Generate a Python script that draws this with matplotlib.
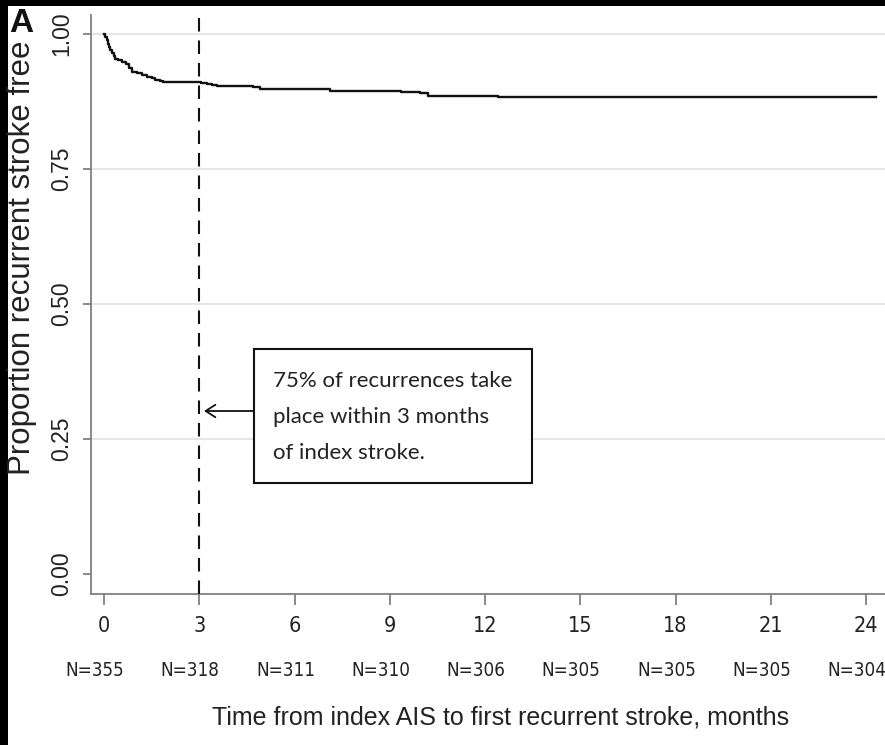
import matplotlib
matplotlib.use("Agg")
import matplotlib.pyplot as plt
from matplotlib.patches import Rectangle
from matplotlib import font_manager as fm

# ---------------- data ----------------
event_times = [0.04, 0.08, 0.12, 0.16, 0.20, 0.25, 0.30, 0.36, 0.45, 0.58, 0.70,
               0.80, 0.87, 1.05, 1.20, 1.35, 1.50, 1.62, 1.75, 1.87, 3.05, 3.23,
               3.40, 3.55, 4.70, 4.91, 7.12, 9.37, 9.95, 10.20, 12.42]
surv_after = [0.994, 0.988, 0.982, 0.976, 0.970, 0.965, 0.960, 0.954, 0.951, 0.948, 0.945,
              0.937, 0.930, 0.928, 0.925, 0.921, 0.918, 0.915, 0.913, 0.912, 0.910, 0.908,
              0.906, 0.904, 0.901, 0.898, 0.894, 0.893, 0.890, 0.885, 0.883]
follow_up_end = 24.3

x_ticks = [0, 3, 6, 9, 12, 15, 18, 21, 24]
y_ticks = [0.00, 0.25, 0.50, 0.75, 1.00]
y_tick_labels = ["0.00", "0.25", "0.50", "0.75", "1.00"]
n_at_risk = ["N=355", "N=318", "N=311", "N=310", "N=306", "N=305", "N=305", "N=305", "N=304"]
marker_month = 3
annotation_text = "75% of recurrences take\nplace within 3 months\nof index stroke."
x_label = "Time from index AIS to first recurrent stroke, months"
y_label = "Proportion recurrent stroke free"
panel_label = "A"

# ---------------- fonts ----------------
regular = ["Liberation Sans", "DejaVu Sans"]
try:
    f = fm.findfont(fm.FontProperties(family="DejaVu Sans", stretch="condensed"),
                    fallback_to_default=False)
    have_cond = "ondensed" in f
except Exception:
    have_cond = False
if have_cond:
    tick_font = dict(fontfamily=["DejaVu Sans"], fontstretch="condensed")
    xt_size, n_size = 15.5, 13.5
else:
    tick_font = dict(fontfamily=["Roboto", "Liberation Sans"])
    xt_size, n_size = 14, 12.5

# ---------------- figure ----------------
W, H = 885, 745
fig = plt.figure(figsize=(W / 100, H / 100), dpi=100)
fig.patch.set_facecolor("black")
fig.add_artist(Rectangle((8 / W, 0), 1, 1 - 6 / H, transform=fig.transFigure,
                         facecolor="white", edgecolor="none", zorder=-5))

ax_left, ax_right, ax_top, ax_bottom = 91, 885, 15, 594
ax = fig.add_axes([ax_left / W, 1 - ax_bottom / H, (ax_right - ax_left) / W,
                   (ax_bottom - ax_top) / H])
ax.set_facecolor("white")

x0 = (ax_left - 104) / 31.75
x1 = (ax_right - 104) / 31.75
y0 = (574 - ax_bottom) / 540
y1 = (574 - ax_top) / 540
ax.set_xlim(x0, x1)
ax.set_ylim(y0, y1)

for yv in y_ticks[1:]:
    ax.axhline(yv, color="#e6e6e6", lw=1.5, zorder=1)

xs = [0] + event_times + [follow_up_end]
ys = [1.0] + surv_after + [surv_after[-1]]
ax.plot(xs, ys, drawstyle="steps-post", color="#111111", lw=1.7, zorder=3)

ax.axvline(marker_month, color="#111111", lw=1.5, dashes=(6.5, 4.3), zorder=3)

for s in ["top", "right"]:
    ax.spines[s].set_visible(False)
for s in ["left", "bottom"]:
    ax.spines[s].set_color("#808080")
    ax.spines[s].set_linewidth(1.3)

ax.set_xticks(x_ticks)
ax.set_xticklabels([str(t) for t in x_ticks], fontsize=xt_size, color="#222222", **tick_font)
ax.set_yticks(y_ticks)
ax.set_yticklabels(y_tick_labels, fontfamily=regular, fontsize=16.5, color="#222222",
                   rotation=90, va="center")
ax.tick_params(axis="x", length=8, width=1.3, color="#808080", pad=8)
ax.tick_params(axis="y", length=6, width=1.3, color="#808080", pad=7)

for t, lab in zip(x_ticks, n_at_risk):
    ax.annotate(lab, xy=(t, 0), xycoords=("data", "axes fraction"),
                xytext=(-6.5, -55), textcoords="offset points",
                ha="center", va="center", fontsize=n_size,
                color="#222222", annotation_clip=False, **tick_font)

ax.set_xlabel(x_label, fontfamily=regular, fontsize=18, color="#222222", va="center")
ax.xaxis.set_label_coords((501 - ax_left) / (ax_right - ax_left),
                          (ax_bottom - 717) / (ax_bottom - ax_top))
ax.set_ylabel(y_label, fontfamily=regular, fontsize=22.5, color="#222222",
              va="center", ha="center")
ax.yaxis.set_label_coords((22 - ax_left) / (ax_right - ax_left),
                          (ax_bottom - 258) / (ax_bottom - ax_top))

bx0, bx1 = (254 - 104) / 31.75, (532 - 104) / 31.75
by0, by1 = (574 - 483) / 540, (574 - 349) / 540
ax.add_patch(Rectangle((bx0, by0), bx1 - bx0, by1 - by0, facecolor="white",
                       edgecolor="#111111", lw=1.5, zorder=4))
ax.text((273 - 104) / 31.75, (574 - 417) / 540, annotation_text,
        fontfamily=["Lato", "DejaVu Sans"], fontsize=16, color="#222222",
        ha="left", va="center", linespacing=2.0, zorder=5)
arrow_y = (574 - 411) / 540
ax.annotate("", xy=((204 - 104) / 31.75, arrow_y), xytext=(bx0, arrow_y),
            arrowprops=dict(arrowstyle="->,head_length=0.7,head_width=0.45",
                            color="#111111", lw=1.3, shrinkA=0, shrinkB=0),
            zorder=5)

fig.text(9 / W, 1 - 8 / H, panel_label, fontfamily=regular, fontweight="bold",
         fontsize=24, ha="left", va="top", color="#111111")

fig.savefig("out.png", dpi=100, facecolor=fig.get_facecolor())
